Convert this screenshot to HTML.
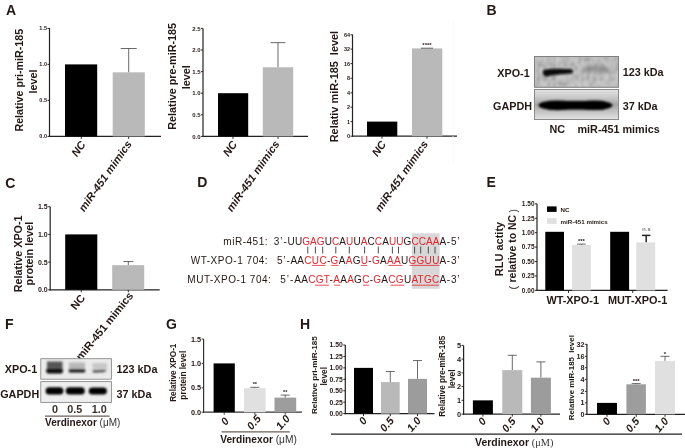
<!DOCTYPE html>
<html><head><meta charset="utf-8"><style>
html,body{margin:0;padding:0;background:#fff;}
svg{display:block;will-change:transform;}
text{font-family:"Liberation Sans",sans-serif;}
</style></head><body>
<svg width="685" height="448" viewBox="0 0 685 448">
<defs><filter id="blur1" x="-20%" y="-50%" width="140%" height="200%"><feGaussianBlur stdDeviation="1.2"/></filter>
<filter id="blur2" x="-20%" y="-50%" width="140%" height="200%"><feGaussianBlur stdDeviation="2.2"/></filter>
<filter id="blur08" x="-20%" y="-50%" width="140%" height="200%"><feGaussianBlur stdDeviation="0.9"/></filter>
<filter id="blur05" x="-20%" y="-50%" width="140%" height="200%"><feGaussianBlur stdDeviation="0.7"/></filter>
<filter id="noise" x="0" y="0" width="100%" height="100%"><feTurbulence type="fractalNoise" baseFrequency="0.35" numOctaves="2" seed="3"/><feColorMatrix type="matrix" values="0 0 0 0 0.5  0 0 0 0 0.5  0 0 0 0 0.5  0 0 0 0.5 -0.05"/><feComposite in2="SourceGraphic" operator="in"/></filter>
<filter id="noise2" x="0" y="0" width="100%" height="100%"><feTurbulence type="fractalNoise" baseFrequency="0.32 0.16" numOctaves="2" seed="11"/><feColorMatrix type="matrix" values="1.6 0 0 0 -0.3  1.6 0 0 0 -0.3  1.6 0 0 0 -0.3  0 0 0 0 0.3"/><feGaussianBlur stdDeviation="0.8"/><feComposite in2="SourceGraphic" operator="in"/></filter>
<linearGradient id="g2" x1="0" y1="0" x2="0" y2="1"><stop offset="0" stop-color="#e2e2e2"/><stop offset="0.25" stop-color="#cacaca"/><stop offset="0.5" stop-color="#a8a8a8"/><stop offset="0.75" stop-color="#c4c4c4"/><stop offset="1" stop-color="#e4e4e4"/></linearGradient></defs>
<text x="6" y="14.7" font-size="14" font-weight="bold" text-anchor="start" fill="#231815">A</text>
<line x1="49.5" y1="28" x2="49.5" y2="137.0" stroke="#222" stroke-width="1.2"/>
<line x1="48.9" y1="136.4" x2="161" y2="136.4" stroke="#222" stroke-width="1.2"/>
<line x1="47.5" y1="28.4" x2="49.5" y2="28.4" stroke="#222" stroke-width="0.96"/>
<text x="47.0" y="30.38" font-size="5.5" font-weight="bold" text-anchor="end" fill="#231815">1.5</text>
<line x1="47.5" y1="64.4" x2="49.5" y2="64.4" stroke="#222" stroke-width="0.96"/>
<text x="47.0" y="66.38000000000001" font-size="5.5" font-weight="bold" text-anchor="end" fill="#231815">1.0</text>
<line x1="47.5" y1="100.4" x2="49.5" y2="100.4" stroke="#222" stroke-width="0.96"/>
<text x="47.0" y="102.38000000000001" font-size="5.5" font-weight="bold" text-anchor="end" fill="#231815">0.5</text>
<line x1="47.5" y1="136.4" x2="49.5" y2="136.4" stroke="#222" stroke-width="0.96"/>
<text x="47.0" y="138.38" font-size="5.5" font-weight="bold" text-anchor="end" fill="#231815">0.0</text>
<line x1="81.3" y1="136.4" x2="81.3" y2="138.9" stroke="#222" stroke-width="0.96"/>
<line x1="128.7" y1="136.4" x2="128.7" y2="138.9" stroke="#222" stroke-width="0.96"/>
<rect x="65" y="64.4" width="32.2" height="72.0" fill="#000"/>
<line x1="128.7" y1="48.5" x2="128.7" y2="72.3" stroke="#444" stroke-width="0.8"/>
<line x1="120.69999999999999" y1="48.5" x2="136.7" y2="48.5" stroke="#444" stroke-width="0.8"/>
<rect x="112.7" y="72.3" width="32.1" height="64.10000000000001" fill="#b9b9b9"/>
<text transform="translate(23.4,80.2) rotate(-90)" font-size="10.7" font-weight="bold" text-anchor="middle" fill="#231815">Relative pri-miR-185</text>
<text transform="translate(37.2,81.5) rotate(-90)" font-size="10.8" font-weight="bold" text-anchor="middle" fill="#231815">level</text>
<text transform="translate(86,144.5) rotate(-55)" font-size="11" font-weight="bold" font-style="italic" text-anchor="end" fill="#231815">NC</text>
<text transform="translate(132.3,144) rotate(-55)" font-size="11" font-weight="bold" font-style="italic" text-anchor="end" fill="#231815">miR-451 mimics</text>
<line x1="203" y1="28.400000000000006" x2="203" y2="137.0" stroke="#222" stroke-width="1.2"/>
<line x1="202.4" y1="136.4" x2="308" y2="136.4" stroke="#222" stroke-width="1.2"/>
<line x1="201" y1="136.4" x2="203" y2="136.4" stroke="#222" stroke-width="0.96"/>
<text x="200.5" y="138.56" font-size="6" font-weight="bold" text-anchor="end" fill="#231815">0.0</text>
<line x1="201" y1="114.80000000000001" x2="203" y2="114.80000000000001" stroke="#222" stroke-width="0.96"/>
<text x="200.5" y="116.96000000000001" font-size="6" font-weight="bold" text-anchor="end" fill="#231815">0.5</text>
<line x1="201" y1="93.2" x2="203" y2="93.2" stroke="#222" stroke-width="0.96"/>
<text x="200.5" y="95.36" font-size="6" font-weight="bold" text-anchor="end" fill="#231815">1.0</text>
<line x1="201" y1="71.6" x2="203" y2="71.6" stroke="#222" stroke-width="0.96"/>
<text x="200.5" y="73.75999999999999" font-size="6" font-weight="bold" text-anchor="end" fill="#231815">1.5</text>
<line x1="201" y1="50.0" x2="203" y2="50.0" stroke="#222" stroke-width="0.96"/>
<text x="200.5" y="52.16" font-size="6" font-weight="bold" text-anchor="end" fill="#231815">2.0</text>
<line x1="201" y1="28.400000000000006" x2="203" y2="28.400000000000006" stroke="#222" stroke-width="0.96"/>
<text x="200.5" y="30.560000000000006" font-size="6" font-weight="bold" text-anchor="end" fill="#231815">2.5</text>
<line x1="233" y1="136.4" x2="233" y2="138.9" stroke="#222" stroke-width="0.96"/>
<line x1="278" y1="136.4" x2="278" y2="138.9" stroke="#222" stroke-width="0.96"/>
<rect x="218" y="93.2" width="30.2" height="43.2" fill="#000"/>
<line x1="278" y1="42.656000000000006" x2="278" y2="67.28" stroke="#444" stroke-width="0.8"/>
<line x1="270.5" y1="42.656000000000006" x2="285.5" y2="42.656000000000006" stroke="#444" stroke-width="0.8"/>
<rect x="262.8" y="67.28" width="30.4" height="69.12" fill="#b9b9b9"/>
<text transform="translate(176.3,76.3) rotate(-90)" font-size="10.8" font-weight="bold" text-anchor="middle" fill="#231815">Relative pre-miR-185</text>
<text transform="translate(189.7,77.2) rotate(-90)" font-size="10.8" font-weight="bold" text-anchor="middle" fill="#231815">level</text>
<text transform="translate(237.5,144.3) rotate(-55)" font-size="11" font-weight="bold" font-style="italic" text-anchor="end" fill="#231815">NC</text>
<text transform="translate(280,144) rotate(-55)" font-size="11" font-weight="bold" font-style="italic" text-anchor="end" fill="#231815">miR-451 mimics</text>
<line x1="352.5" y1="34.5" x2="352.5" y2="136.79999999999998" stroke="#222" stroke-width="1.2"/>
<line x1="351.9" y1="136.2" x2="457" y2="136.2" stroke="#222" stroke-width="1.2"/>
<line x1="350.5" y1="136.2" x2="352.5" y2="136.2" stroke="#222" stroke-width="0.96"/>
<text x="350.0" y="138.17999999999998" font-size="5.5" font-weight="bold" text-anchor="end" fill="#231815">0</text>
<line x1="350.5" y1="121.6" x2="352.5" y2="121.6" stroke="#222" stroke-width="0.96"/>
<text x="350.0" y="123.58" font-size="5.5" font-weight="bold" text-anchor="end" fill="#231815">1</text>
<line x1="350.5" y1="107.2" x2="352.5" y2="107.2" stroke="#222" stroke-width="0.96"/>
<text x="350.0" y="109.18" font-size="5.5" font-weight="bold" text-anchor="end" fill="#231815">2</text>
<line x1="350.5" y1="92.8" x2="352.5" y2="92.8" stroke="#222" stroke-width="0.96"/>
<text x="350.0" y="94.78" font-size="5.5" font-weight="bold" text-anchor="end" fill="#231815">4</text>
<line x1="350.5" y1="78.3" x2="352.5" y2="78.3" stroke="#222" stroke-width="0.96"/>
<text x="350.0" y="80.28" font-size="5.5" font-weight="bold" text-anchor="end" fill="#231815">8</text>
<line x1="350.5" y1="63.6" x2="352.5" y2="63.6" stroke="#222" stroke-width="0.96"/>
<text x="350.0" y="65.58" font-size="5.5" font-weight="bold" text-anchor="end" fill="#231815">16</text>
<line x1="350.5" y1="49.1" x2="352.5" y2="49.1" stroke="#222" stroke-width="0.96"/>
<text x="350.0" y="51.08" font-size="5.5" font-weight="bold" text-anchor="end" fill="#231815">32</text>
<line x1="350.5" y1="34.8" x2="352.5" y2="34.8" stroke="#222" stroke-width="0.96"/>
<text x="350.0" y="36.779999999999994" font-size="5.5" font-weight="bold" text-anchor="end" fill="#231815">64</text>
<line x1="382" y1="136.2" x2="382" y2="138.7" stroke="#222" stroke-width="0.96"/>
<line x1="427" y1="136.2" x2="427" y2="138.7" stroke="#222" stroke-width="0.96"/>
<rect x="367" y="121.6" width="30.3" height="14.599999999999994" fill="#000"/>
<rect x="412" y="48.4" width="30.3" height="87.79999999999998" fill="#b9b9b9"/>
<line x1="421" y1="48.2" x2="433" y2="48.2" stroke="#444" stroke-width="0.8"/>
<text x="427" y="46.5" font-size="6" font-weight="bold" text-anchor="middle" fill="#231815">****</text>
<text transform="translate(338,86.6) rotate(-90)" font-size="10.9" font-weight="bold" text-anchor="middle" fill="#231815">Relativ miR-185&#160; level</text>
<text transform="translate(386.5,144.3) rotate(-55)" font-size="11" font-weight="bold" font-style="italic" text-anchor="end" fill="#231815">NC</text>
<text transform="translate(428.5,144) rotate(-55)" font-size="11" font-weight="bold" font-style="italic" text-anchor="end" fill="#231815">miR-451 mimics</text>
<text x="486.4" y="14.7" font-size="14" font-weight="bold" text-anchor="start" fill="#231815">B</text>
<rect x="534.5" y="56.5" width="84" height="30.8" fill="#bababa" stroke="#808080" stroke-width="1"/>
<rect x="535" y="57" width="83" height="29.8" fill="#fff" filter="url(#noise2)"/>
<g filter="url(#blur08)"><path d="M543.5,69.8 C548,68.3 562,68.4 571.5,69.2 C573.5,70.5 573.5,72.5 571.5,73.4 C562,74.2 552,74.6 547,76.6 C543,76.9 541.8,72 543.5,69.8 Z" fill="#0a0a0a"/></g>
<g filter="url(#blur2)" opacity="0.75"><ellipse cx="596.5" cy="69.2" rx="13" ry="2.6" fill="#7a7a7a"/><ellipse cx="588" cy="70" rx="3.5" ry="2.2" fill="#606060"/><ellipse cx="603" cy="69.5" rx="3.5" ry="2" fill="#666"/></g>
<rect x="534.5" y="89.5" width="84" height="30" fill="url(#g2)" stroke="#8a8a8a" stroke-width="1"/>
<g filter="url(#blur1)"><ellipse cx="557.5" cy="105.3" rx="19" ry="4.9" fill="#050505"/><ellipse cx="594" cy="105.3" rx="18.5" ry="4.8" fill="#050505"/><rect x="548" y="101" width="56" height="8.6" fill="#050505"/></g>
<text x="529.7" y="76.6" font-size="10.8" font-weight="bold" text-anchor="end" fill="#231815">XPO-1</text>
<text x="532" y="110.2" font-size="10.8" font-weight="bold" text-anchor="end" fill="#231815">GAPDH</text>
<text x="622.8" y="76.4" font-size="10.8" font-weight="bold" text-anchor="start" fill="#231815">123 kDa</text>
<text x="622.8" y="110" font-size="10.8" font-weight="bold" text-anchor="start" fill="#231815">37 kDa</text>
<text x="557.3" y="133.2" font-size="10.8" font-weight="bold" text-anchor="middle" fill="#231815">NC</text>
<text x="577.5" y="133.2" font-size="10.8" font-weight="bold" text-anchor="start" fill="#231815">miR-451 mimics</text>
<text x="5.2" y="187.5" font-size="14" font-weight="bold" text-anchor="start" fill="#231815">C</text>
<line x1="50.2" y1="206.70000000000002" x2="50.2" y2="290.40000000000003" stroke="#222" stroke-width="1.2"/>
<line x1="49.6" y1="289.8" x2="159.7" y2="289.8" stroke="#222" stroke-width="1.2"/>
<line x1="48.2" y1="289.8" x2="50.2" y2="289.8" stroke="#222" stroke-width="0.96"/>
<text x="47.7" y="292.32" font-size="7" font-weight="bold" text-anchor="end" fill="#231815">0.0</text>
<line x1="48.2" y1="262.1" x2="50.2" y2="262.1" stroke="#222" stroke-width="0.96"/>
<text x="47.7" y="264.62" font-size="7" font-weight="bold" text-anchor="end" fill="#231815">0.5</text>
<line x1="48.2" y1="234.4" x2="50.2" y2="234.4" stroke="#222" stroke-width="0.96"/>
<text x="47.7" y="236.92000000000002" font-size="7" font-weight="bold" text-anchor="end" fill="#231815">1.0</text>
<line x1="48.2" y1="206.70000000000002" x2="50.2" y2="206.70000000000002" stroke="#222" stroke-width="0.96"/>
<text x="47.7" y="209.22000000000003" font-size="7" font-weight="bold" text-anchor="end" fill="#231815">1.5</text>
<line x1="81.3" y1="289.8" x2="81.3" y2="292.3" stroke="#222" stroke-width="0.96"/>
<line x1="128.3" y1="289.8" x2="128.3" y2="292.3" stroke="#222" stroke-width="0.96"/>
<rect x="65.2" y="234.4" width="32.1" height="55.4" fill="#000"/>
<line x1="128.3" y1="261.546" x2="128.3" y2="265.147" stroke="#444" stroke-width="0.8"/>
<line x1="123.30000000000001" y1="261.546" x2="133.3" y2="261.546" stroke="#444" stroke-width="0.8"/>
<rect x="112.2" y="265.147" width="32" height="24.65300000000002" fill="#b9b9b9"/>
<text transform="translate(21.8,253.8) rotate(-90)" font-size="10.8" font-weight="bold" text-anchor="middle" fill="#231815">Relative XPO-1</text>
<text transform="translate(33.4,253.6) rotate(-90)" font-size="10.8" font-weight="bold" text-anchor="middle" fill="#231815">protein level</text>
<text transform="translate(85.8,298.2) rotate(-51)" font-size="11" font-weight="bold" text-anchor="end" fill="#231815">NC</text>
<text transform="translate(133.8,296) rotate(-51)" font-size="11" font-weight="bold" text-anchor="end" fill="#231815">miR-451 mimics</text>
<text x="197.3" y="187.4" font-size="14" font-weight="bold" text-anchor="start" fill="#231815">D</text>
<rect x="411.8" y="233.3" width="27.8" height="55.5" fill="#d8d8d8"/>
<text x="223.3" y="244.5" font-size="10" letter-spacing="0.53" fill="#231815">miR-451:</text>
<text x="190.7" y="263.5" font-size="10" letter-spacing="0.53" fill="#231815">WT-XPO-1 704:</text>
<text x="187.3" y="282.5" font-size="10" letter-spacing="0.53" fill="#231815">MUT-XPO-1 704:</text>
<text x="273.8" y="244.5" font-size="10" letter-spacing="0.9" fill="#231815">3’-</text>
<text x="287.6" y="244.5" font-size="10" letter-spacing="0.09" fill="#231815"><tspan fill="#231815">UU</tspan><tspan fill="#e8212b">GAG</tspan><tspan fill="#231815">U</tspan><tspan fill="#e8212b">C</tspan><tspan fill="#231815">A</tspan><tspan fill="#e8212b">U</tspan><tspan fill="#231815">U</tspan><tspan fill="#e8212b">A</tspan><tspan fill="#231815">C</tspan><tspan fill="#e8212b">C</tspan><tspan fill="#231815">A</tspan><tspan fill="#e8212b">UU</tspan><tspan fill="#231815">G</tspan><tspan fill="#e8212b">CCAA</tspan></text>
<text x="439.5" y="244.5" font-size="10" letter-spacing="0.7" fill="#231815">A-5’</text>
<text x="276.9" y="263.5" font-size="10" letter-spacing="0.9" fill="#231815">5’-</text>
<text x="290.4" y="263.5" font-size="10" letter-spacing="0.3" fill="#231815"><tspan fill="#231815">AA</tspan><tspan fill="#e8212b">CUC</tspan><tspan fill="#231815">-</tspan><tspan fill="#e8212b">G</tspan><tspan fill="#231815">A</tspan><tspan fill="#e8212b">A</tspan><tspan fill="#231815">G</tspan><tspan fill="#e8212b">U</tspan><tspan fill="#231815">-</tspan><tspan fill="#e8212b">G</tspan><tspan fill="#231815">A</tspan><tspan fill="#e8212b">AA</tspan><tspan fill="#231815">U</tspan><tspan fill="#e8212b">GGUU</tspan></text>
<text x="439.5" y="263.5" font-size="10" letter-spacing="0.7" fill="#231815">A-3’</text>
<text x="280.3" y="282.5" font-size="10" letter-spacing="0.9" fill="#231815">5’-</text>
<text x="294.3" y="282.5" font-size="10" letter-spacing="0.28" fill="#231815"><tspan fill="#231815">AA</tspan><tspan fill="#e8212b">CGT</tspan><tspan fill="#231815">-</tspan><tspan fill="#e8212b">A</tspan><tspan fill="#231815">A</tspan><tspan fill="#e8212b">A</tspan><tspan fill="#231815">G</tspan><tspan fill="#e8212b">C</tspan><tspan fill="#231815">-</tspan><tspan fill="#e8212b">G</tspan><tspan fill="#231815">A</tspan><tspan fill="#e8212b">CG</tspan><tspan fill="#231815">U</tspan><tspan fill="#e8212b">ATGC</tspan></text>
<text x="439.5" y="282.5" font-size="10" letter-spacing="0.7" fill="#231815">A-3’</text>
<line x1="307.8" y1="246.6" x2="307.8" y2="253.5" stroke="#3a3a3a" stroke-width="0.9"/>
<line x1="315.4" y1="246.6" x2="315.4" y2="253.5" stroke="#3a3a3a" stroke-width="0.9"/>
<line x1="322.7" y1="246.6" x2="322.7" y2="253.5" stroke="#3a3a3a" stroke-width="0.9"/>
<line x1="335.8" y1="246.6" x2="335.8" y2="253.5" stroke="#3a3a3a" stroke-width="0.9"/>
<line x1="349.3" y1="246.6" x2="349.3" y2="253.5" stroke="#3a3a3a" stroke-width="0.9"/>
<line x1="364.6" y1="246.6" x2="364.6" y2="253.5" stroke="#3a3a3a" stroke-width="0.9"/>
<line x1="378.3" y1="246.6" x2="378.3" y2="253.5" stroke="#3a3a3a" stroke-width="0.9"/>
<line x1="392.4" y1="246.6" x2="392.4" y2="253.5" stroke="#3a3a3a" stroke-width="0.9"/>
<line x1="398.5" y1="246.6" x2="398.5" y2="253.5" stroke="#3a3a3a" stroke-width="0.9"/>
<line x1="414.6" y1="246.6" x2="414.6" y2="253.5" stroke="#3a3a3a" stroke-width="0.9"/>
<line x1="420.7" y1="246.6" x2="420.7" y2="253.5" stroke="#3a3a3a" stroke-width="0.9"/>
<line x1="428.3" y1="246.6" x2="428.3" y2="253.5" stroke="#3a3a3a" stroke-width="0.9"/>
<line x1="435" y1="246.6" x2="435" y2="253.5" stroke="#3a3a3a" stroke-width="0.9"/>
<line x1="311.9" y1="265.4" x2="325.6" y2="265.4" stroke="#e8212b" stroke-width="0.8"/>
<line x1="331.3" y1="265.4" x2="338.5" y2="265.4" stroke="#e8212b" stroke-width="0.8"/>
<line x1="361" y1="265.4" x2="367" y2="265.4" stroke="#e8212b" stroke-width="0.8"/>
<line x1="388.4" y1="265.4" x2="402.3" y2="265.4" stroke="#e8212b" stroke-width="0.8"/>
<line x1="409.7" y1="265.4" x2="439.5" y2="265.4" stroke="#e8212b" stroke-width="0.8"/>
<line x1="315" y1="285.2" x2="328.8" y2="285.2" stroke="#e8212b" stroke-width="0.8"/>
<line x1="333.9" y1="285.2" x2="340" y2="285.2" stroke="#e8212b" stroke-width="0.8"/>
<line x1="363" y1="285.2" x2="369" y2="285.2" stroke="#e8212b" stroke-width="0.8"/>
<line x1="390.6" y1="285.2" x2="403.9" y2="285.2" stroke="#e8212b" stroke-width="0.8"/>
<line x1="411.9" y1="285.2" x2="438.8" y2="285.2" stroke="#e8212b" stroke-width="0.8"/>
<text x="486.4" y="187.4" font-size="14" font-weight="bold" text-anchor="start" fill="#231815">E</text>
<line x1="537" y1="203.82" x2="537" y2="291.0" stroke="#222" stroke-width="1.2"/>
<line x1="536.4" y1="290.4" x2="667.6" y2="290.4" stroke="#222" stroke-width="1.2"/>
<line x1="535" y1="290.4" x2="537" y2="290.4" stroke="#222" stroke-width="0.96"/>
<text x="534.5" y="292.73999999999995" font-size="6.5" font-weight="bold" text-anchor="end" fill="#231815">0.00</text>
<line x1="535" y1="275.96999999999997" x2="537" y2="275.96999999999997" stroke="#222" stroke-width="0.96"/>
<text x="534.5" y="278.30999999999995" font-size="6.5" font-weight="bold" text-anchor="end" fill="#231815">0.25</text>
<line x1="535" y1="261.53999999999996" x2="537" y2="261.53999999999996" stroke="#222" stroke-width="0.96"/>
<text x="534.5" y="263.87999999999994" font-size="6.5" font-weight="bold" text-anchor="end" fill="#231815">0.50</text>
<line x1="535" y1="247.10999999999999" x2="537" y2="247.10999999999999" stroke="#222" stroke-width="0.96"/>
<text x="534.5" y="249.45" font-size="6.5" font-weight="bold" text-anchor="end" fill="#231815">0.75</text>
<line x1="535" y1="232.67999999999998" x2="537" y2="232.67999999999998" stroke="#222" stroke-width="0.96"/>
<text x="534.5" y="235.01999999999998" font-size="6.5" font-weight="bold" text-anchor="end" fill="#231815">1.00</text>
<line x1="535" y1="218.24999999999997" x2="537" y2="218.24999999999997" stroke="#222" stroke-width="0.96"/>
<text x="534.5" y="220.58999999999997" font-size="6.5" font-weight="bold" text-anchor="end" fill="#231815">1.25</text>
<line x1="535" y1="203.82" x2="537" y2="203.82" stroke="#222" stroke-width="0.96"/>
<text x="534.5" y="206.16" font-size="6.5" font-weight="bold" text-anchor="end" fill="#231815">1.50</text>
<line x1="568.5" y1="290.4" x2="568.5" y2="292.9" stroke="#222" stroke-width="0.96"/>
<line x1="632.7" y1="290.4" x2="632.7" y2="292.9" stroke="#222" stroke-width="0.96"/>
<rect x="545.3" y="231.8" width="18.7" height="58.599999999999966" fill="#000"/>
<line x1="581.4" y1="244.1" x2="581.4" y2="245" stroke="#444" stroke-width="0.8"/>
<line x1="577.05" y1="244.1" x2="585.75" y2="244.1" stroke="#444" stroke-width="0.8"/>
<rect x="572.1" y="245" width="18.7" height="45.39999999999998" fill="#dfe0df"/>
<text x="581.4" y="242.6" font-size="6" font-weight="bold" text-anchor="middle" fill="#231815">***</text>
<rect x="610.2" y="231.8" width="18.9" height="58.599999999999966" fill="#000"/>
<line x1="646.2" y1="235.4" x2="646.2" y2="242.4" stroke="#222" stroke-width="1.5"/>
<line x1="642.0" y1="235.4" x2="650.4000000000001" y2="235.4" stroke="#222" stroke-width="1.5"/>
<rect x="636.3" y="242.4" width="18.9" height="47.99999999999997" fill="#dfe0df"/>
<text x="646.4" y="231.1" font-size="6.2" text-anchor="middle" fill="#444">n.s</text>
<rect x="547" y="206.4" width="9.6" height="5.5" fill="#000"/>
<rect x="547" y="218.1" width="9.6" height="5.8" fill="#dfe0df"/>
<text x="560.6" y="211.6" font-size="6.2" font-weight="bold" text-anchor="start" fill="#231815">NC</text>
<text x="560.6" y="223.8" font-size="6.2" font-weight="bold" text-anchor="start" fill="#231815">miR-451 mimics</text>
<text transform="translate(503.1,249) rotate(-90)" font-size="11" font-weight="bold" text-anchor="middle" fill="#231815">RLU actity</text>
<text transform="translate(515.7,248.7) rotate(-90)" font-size="10.5" font-weight="bold" text-anchor="middle" fill="#231815">relative to NC</text>
<text transform="translate(516.5,289.5) rotate(-90)" font-size="10.5" text-anchor="start" fill="#231815">(</text>
<text transform="translate(516.5,212.5) rotate(-90)" font-size="10.5" text-anchor="start" fill="#231815">)</text>
<text x="572.7" y="303.6" font-size="10.9" font-weight="bold" text-anchor="middle" fill="#231815">WT-XPO-1</text>
<text x="637.6" y="303.6" font-size="10.9" font-weight="bold" text-anchor="middle" fill="#231815">MUT-XPO-1</text>
<text x="5" y="329" font-size="14" font-weight="bold" text-anchor="start" fill="#231815">F</text>
<rect x="40.8" y="358.7" width="70.6" height="20.5" fill="#ebebeb" stroke="#8a8a8a" stroke-width="0.9"/>
<rect x="40.8" y="381.6" width="70.6" height="20.8" fill="#eeeeee" stroke="#8a8a8a" stroke-width="0.9"/>
<g filter="url(#blur1)"><rect x="47" y="361.5" width="15.5" height="7" fill="#555"/><rect x="69" y="362.5" width="16" height="6.5" fill="#b8b8b8"/><rect x="92.5" y="363" width="14.5" height="6.5" fill="#c8c8c8"/></g>
<g filter="url(#blur08)"><rect x="46.3" y="368.2" width="16.6" height="5.2" rx="2" fill="#080808"/><rect x="68.6" y="369.2" width="16.8" height="3.4" rx="1.5" fill="#1a1a1a"/><path d="M92.5,370.2 L103,369.8 L107,370.5 L104,372.3 L93,372.8 Z" fill="#555"/></g>
<g filter="url(#blur08)"><rect x="45.6" y="387.2" width="17.8" height="7.4" rx="3.5" fill="#050505"/><rect x="65.8" y="387.2" width="19" height="7.4" rx="3.5" fill="#050505"/><rect x="88.7" y="387.4" width="18.2" height="7.2" rx="3.5" fill="#050505"/></g>
<text x="37.2" y="373.4" font-size="10.8" font-weight="bold" text-anchor="end" fill="#231815">XPO-1</text>
<text x="39.2" y="398.2" font-size="10.8" font-weight="bold" text-anchor="end" fill="#231815">GAPDH</text>
<text x="116.6" y="373.4" font-size="10.8" font-weight="bold" text-anchor="start" fill="#231815">123 kDa</text>
<text x="116.6" y="398.2" font-size="10.8" font-weight="bold" text-anchor="start" fill="#231815">37 kDa</text>
<text x="54.9" y="413.1" font-size="10.8" font-weight="bold" text-anchor="middle" fill="#3a302c">0</text>
<text x="74.8" y="413.1" font-size="10.8" font-weight="bold" text-anchor="middle" fill="#3a302c">0.5</text>
<text x="99.15" y="413.1" font-size="10.8" font-weight="bold" text-anchor="middle" fill="#3a302c">1.0</text>
<line x1="45" y1="416.1" x2="109.6" y2="416.1" stroke="#6b5f5a" stroke-width="1.3"/>
<text x="45.1" y="425.8" font-size="10" fill="#231815"><tspan font-weight="bold">Verdinexor</tspan><tspan fill="#333"> (μM)</tspan></text>
<text x="165.9" y="328.6" font-size="14" font-weight="bold" text-anchor="start" fill="#231815">G</text>
<line x1="203.6" y1="339.0" x2="203.6" y2="412.8" stroke="#333" stroke-width="1.2"/>
<line x1="203.0" y1="412.2" x2="302" y2="412.2" stroke="#333" stroke-width="1.2"/>
<line x1="201.6" y1="412.2" x2="203.6" y2="412.2" stroke="#333" stroke-width="0.96"/>
<text x="201.1" y="414.828" font-size="7.3" font-weight="bold" text-anchor="end" fill="#231815">0.0</text>
<line x1="201.6" y1="387.8" x2="203.6" y2="387.8" stroke="#333" stroke-width="0.96"/>
<text x="201.1" y="390.428" font-size="7.3" font-weight="bold" text-anchor="end" fill="#231815">0.5</text>
<line x1="201.6" y1="363.4" x2="203.6" y2="363.4" stroke="#333" stroke-width="0.96"/>
<text x="201.1" y="366.02799999999996" font-size="7.3" font-weight="bold" text-anchor="end" fill="#231815">1.0</text>
<line x1="201.6" y1="339.0" x2="203.6" y2="339.0" stroke="#333" stroke-width="0.96"/>
<text x="201.1" y="341.628" font-size="7.3" font-weight="bold" text-anchor="end" fill="#231815">1.5</text>
<line x1="224.2" y1="412.2" x2="224.2" y2="414.7" stroke="#333" stroke-width="0.96"/>
<line x1="254.8" y1="412.2" x2="254.8" y2="414.7" stroke="#333" stroke-width="0.96"/>
<line x1="285.2" y1="412.2" x2="285.2" y2="414.7" stroke="#333" stroke-width="0.96"/>
<rect x="213.6" y="363.4" width="21.2" height="48.8" fill="#000"/>
<line x1="254.8" y1="387.3" x2="254.8" y2="388.2" stroke="#444" stroke-width="0.8"/>
<line x1="250.3" y1="387.3" x2="259.3" y2="387.3" stroke="#444" stroke-width="0.8"/>
<rect x="244" y="388.2" width="21.6" height="24.0" fill="#dfe0df"/>
<text x="254.8" y="386.2" font-size="5.5" font-weight="bold" text-anchor="middle" fill="#231815">**</text>
<line x1="285.2" y1="395.1" x2="285.2" y2="397.6" stroke="#444" stroke-width="0.8"/>
<line x1="280.7" y1="395.1" x2="289.7" y2="395.1" stroke="#444" stroke-width="0.8"/>
<rect x="274.5" y="397.6" width="21.7" height="14.599999999999966" fill="#9d9d9d"/>
<text x="285.2" y="393.9" font-size="5.5" font-weight="bold" text-anchor="middle" fill="#231815">**</text>
<text transform="translate(176.2,372.7) rotate(-90)" font-size="8.2" font-weight="bold" text-anchor="middle" fill="#231815">Relative XPO-1</text>
<text transform="translate(185.6,375.2) rotate(-90)" font-size="8.3" font-weight="bold" text-anchor="middle" fill="#231815">protein level</text>
<text transform="translate(229.5,421.5) rotate(-50)" font-size="10.8" font-weight="bold" font-style="italic" text-anchor="end" fill="#231815">0</text>
<text transform="translate(261.5,419) rotate(-50)" font-size="10.8" font-weight="bold" font-style="italic" text-anchor="end" fill="#231815">0.5</text>
<text transform="translate(290.5,419) rotate(-50)" font-size="10.8" font-weight="bold" font-style="italic" text-anchor="end" fill="#231815">1.0</text>
<line x1="221.5" y1="431.9" x2="289.7" y2="431.9" stroke="#6b5f5a" stroke-width="1.3"/>
<text x="220.2" y="442.5" font-size="10.2" fill="#231815"><tspan font-weight="bold">Verdinexor</tspan><tspan fill="#333"> (μM)</tspan></text>
<text x="300" y="329" font-size="14" font-weight="bold" text-anchor="start" fill="#231815">H</text>
<line x1="345.3" y1="345.02000000000004" x2="345.3" y2="414.20000000000005" stroke="#222" stroke-width="1.2"/>
<line x1="344.7" y1="413.6" x2="434.5" y2="413.6" stroke="#222" stroke-width="1.2"/>
<line x1="343.3" y1="413.6" x2="345.3" y2="413.6" stroke="#222" stroke-width="0.96"/>
<text x="342.8" y="416.048" font-size="6.8" font-weight="bold" text-anchor="end" fill="#231815">0.00</text>
<line x1="343.3" y1="402.17" x2="345.3" y2="402.17" stroke="#222" stroke-width="0.96"/>
<text x="342.8" y="404.618" font-size="6.8" font-weight="bold" text-anchor="end" fill="#231815">0.25</text>
<line x1="343.3" y1="390.74" x2="345.3" y2="390.74" stroke="#222" stroke-width="0.96"/>
<text x="342.8" y="393.188" font-size="6.8" font-weight="bold" text-anchor="end" fill="#231815">0.50</text>
<line x1="343.3" y1="379.31" x2="345.3" y2="379.31" stroke="#222" stroke-width="0.96"/>
<text x="342.8" y="381.758" font-size="6.8" font-weight="bold" text-anchor="end" fill="#231815">0.75</text>
<line x1="343.3" y1="367.88" x2="345.3" y2="367.88" stroke="#222" stroke-width="0.96"/>
<text x="342.8" y="370.328" font-size="6.8" font-weight="bold" text-anchor="end" fill="#231815">1.00</text>
<line x1="343.3" y1="356.45000000000005" x2="345.3" y2="356.45000000000005" stroke="#222" stroke-width="0.96"/>
<text x="342.8" y="358.898" font-size="6.8" font-weight="bold" text-anchor="end" fill="#231815">1.25</text>
<line x1="343.3" y1="345.02000000000004" x2="345.3" y2="345.02000000000004" stroke="#222" stroke-width="0.96"/>
<text x="342.8" y="347.468" font-size="6.8" font-weight="bold" text-anchor="end" fill="#231815">1.50</text>
<line x1="363.5" y1="413.6" x2="363.5" y2="416.1" stroke="#222" stroke-width="0.96"/>
<line x1="390.3" y1="413.6" x2="390.3" y2="416.1" stroke="#222" stroke-width="0.96"/>
<line x1="417.5" y1="413.6" x2="417.5" y2="416.1" stroke="#222" stroke-width="0.96"/>
<rect x="354" y="367.88" width="19" height="45.72" fill="#000"/>
<line x1="390.3" y1="371.5376" x2="390.3" y2="382.0532" stroke="#444" stroke-width="0.8"/>
<line x1="385.8" y1="371.5376" x2="394.8" y2="371.5376" stroke="#444" stroke-width="0.8"/>
<rect x="381" y="382.0532" width="18.7" height="31.54680000000002" fill="#b9b9b9"/>
<line x1="417.5" y1="360.56480000000005" x2="417.5" y2="378.8528" stroke="#444" stroke-width="0.8"/>
<line x1="413.0" y1="360.56480000000005" x2="422.0" y2="360.56480000000005" stroke="#444" stroke-width="0.8"/>
<rect x="408" y="378.8528" width="19" height="34.74720000000002" fill="#9c9c9c"/>
<text transform="translate(317.4,375.2) rotate(-90)" font-size="8.1" font-weight="bold" text-anchor="middle" fill="#231815">Relative pri-miR-185</text>
<text transform="translate(326.7,376.2) rotate(-90)" font-size="8.3" font-weight="bold" text-anchor="middle" fill="#231815">level</text>
<text transform="translate(367.5,421) rotate(-50)" font-size="10.8" font-weight="bold" font-style="italic" text-anchor="end" fill="#231815">0</text>
<text transform="translate(394.5,421) rotate(-50)" font-size="10.8" font-weight="bold" font-style="italic" text-anchor="end" fill="#231815">0.5</text>
<text transform="translate(421.5,421) rotate(-50)" font-size="10.8" font-weight="bold" font-style="italic" text-anchor="end" fill="#231815">1.0</text>
<line x1="463.6" y1="345.40000000000003" x2="463.6" y2="414.70000000000005" stroke="#222" stroke-width="1.2"/>
<line x1="463.0" y1="414.1" x2="560" y2="414.1" stroke="#222" stroke-width="1.2"/>
<line x1="461.6" y1="414.1" x2="463.6" y2="414.1" stroke="#222" stroke-width="0.96"/>
<text x="461.1" y="416.764" font-size="7.4" font-weight="bold" text-anchor="end" fill="#231815">0</text>
<line x1="461.6" y1="400.36" x2="463.6" y2="400.36" stroke="#222" stroke-width="0.96"/>
<text x="461.1" y="403.024" font-size="7.4" font-weight="bold" text-anchor="end" fill="#231815">1</text>
<line x1="461.6" y1="386.62" x2="463.6" y2="386.62" stroke="#222" stroke-width="0.96"/>
<text x="461.1" y="389.284" font-size="7.4" font-weight="bold" text-anchor="end" fill="#231815">2</text>
<line x1="461.6" y1="372.88" x2="463.6" y2="372.88" stroke="#222" stroke-width="0.96"/>
<text x="461.1" y="375.544" font-size="7.4" font-weight="bold" text-anchor="end" fill="#231815">3</text>
<line x1="461.6" y1="359.14000000000004" x2="463.6" y2="359.14000000000004" stroke="#222" stroke-width="0.96"/>
<text x="461.1" y="361.80400000000003" font-size="7.4" font-weight="bold" text-anchor="end" fill="#231815">4</text>
<line x1="461.6" y1="345.40000000000003" x2="463.6" y2="345.40000000000003" stroke="#222" stroke-width="0.96"/>
<text x="461.1" y="348.064" font-size="7.4" font-weight="bold" text-anchor="end" fill="#231815">5</text>
<line x1="482.9" y1="414.1" x2="482.9" y2="416.6" stroke="#222" stroke-width="0.96"/>
<line x1="512.3" y1="414.1" x2="512.3" y2="416.6" stroke="#222" stroke-width="0.96"/>
<line x1="540.9" y1="414.1" x2="540.9" y2="416.6" stroke="#222" stroke-width="0.96"/>
<rect x="472.9" y="400.36" width="20" height="13.74" fill="#000"/>
<line x1="512.3" y1="355.2928" x2="512.3" y2="370.132" stroke="#444" stroke-width="0.8"/>
<line x1="507.79999999999995" y1="355.2928" x2="516.8" y2="355.2928" stroke="#444" stroke-width="0.8"/>
<rect x="502.3" y="370.132" width="20" height="43.96800000000002" fill="#b9b9b9"/>
<line x1="540.9" y1="361.88800000000003" x2="540.9" y2="377.689" stroke="#444" stroke-width="0.8"/>
<line x1="536.4" y1="361.88800000000003" x2="545.4" y2="361.88800000000003" stroke="#444" stroke-width="0.8"/>
<rect x="530.9" y="377.689" width="20" height="36.411" fill="#9c9c9c"/>
<text transform="translate(445.3,376.2) rotate(-90)" font-size="8.2" font-weight="bold" text-anchor="middle" fill="#231815">Relative pre-miR-185</text>
<text transform="translate(455.1,378.8) rotate(-90)" font-size="8.5" font-weight="bold" text-anchor="middle" fill="#231815">level</text>
<text transform="translate(486.9,421.5) rotate(-50)" font-size="10.8" font-weight="bold" font-style="italic" text-anchor="end" fill="#231815">0</text>
<text transform="translate(516.3,421.5) rotate(-50)" font-size="10.8" font-weight="bold" font-style="italic" text-anchor="end" fill="#231815">0.5</text>
<text transform="translate(544.9,421.5) rotate(-50)" font-size="10.8" font-weight="bold" font-style="italic" text-anchor="end" fill="#231815">1.0</text>
<line x1="586.9" y1="344" x2="586.9" y2="414.90000000000003" stroke="#222" stroke-width="1.2"/>
<line x1="586.3" y1="414.3" x2="685" y2="414.3" stroke="#222" stroke-width="1.2"/>
<line x1="584.9" y1="414.3" x2="586.9" y2="414.3" stroke="#222" stroke-width="0.96"/>
<text x="584.4" y="416.892" font-size="7.2" font-weight="bold" text-anchor="end" fill="#231815">0</text>
<line x1="584.9" y1="402.9" x2="586.9" y2="402.9" stroke="#222" stroke-width="0.96"/>
<text x="584.4" y="405.49199999999996" font-size="7.2" font-weight="bold" text-anchor="end" fill="#231815">1</text>
<line x1="584.9" y1="391.4" x2="586.9" y2="391.4" stroke="#222" stroke-width="0.96"/>
<text x="584.4" y="393.99199999999996" font-size="7.2" font-weight="bold" text-anchor="end" fill="#231815">2</text>
<line x1="584.9" y1="379.4" x2="586.9" y2="379.4" stroke="#222" stroke-width="0.96"/>
<text x="584.4" y="381.99199999999996" font-size="7.2" font-weight="bold" text-anchor="end" fill="#231815">4</text>
<line x1="584.9" y1="367.7" x2="586.9" y2="367.7" stroke="#222" stroke-width="0.96"/>
<text x="584.4" y="370.292" font-size="7.2" font-weight="bold" text-anchor="end" fill="#231815">8</text>
<line x1="584.9" y1="356.3" x2="586.9" y2="356.3" stroke="#222" stroke-width="0.96"/>
<text x="584.4" y="358.892" font-size="7.2" font-weight="bold" text-anchor="end" fill="#231815">16</text>
<line x1="584.9" y1="344.3" x2="586.9" y2="344.3" stroke="#222" stroke-width="0.96"/>
<text x="584.4" y="346.892" font-size="7.2" font-weight="bold" text-anchor="end" fill="#231815">32</text>
<line x1="607" y1="414.3" x2="607" y2="416.8" stroke="#222" stroke-width="0.96"/>
<line x1="636.2" y1="414.3" x2="636.2" y2="416.8" stroke="#222" stroke-width="0.96"/>
<line x1="665" y1="414.3" x2="665" y2="416.8" stroke="#222" stroke-width="0.96"/>
<rect x="597" y="402.9" width="20" height="11.400000000000034" fill="#000"/>
<line x1="636.2" y1="383.6" x2="636.2" y2="384.3" stroke="#444" stroke-width="0.8"/>
<line x1="631.7" y1="383.6" x2="640.7" y2="383.6" stroke="#444" stroke-width="0.8"/>
<rect x="626.4" y="384.3" width="19.5" height="30.0" fill="#9d9d9d"/>
<text x="636.2" y="383" font-size="6" font-weight="bold" text-anchor="middle" fill="#231815">***</text>
<line x1="665" y1="356.3" x2="665" y2="360.9" stroke="#444" stroke-width="0.8"/>
<line x1="660.5" y1="356.3" x2="669.5" y2="356.3" stroke="#444" stroke-width="0.8"/>
<rect x="655" y="360.9" width="20" height="53.400000000000034" fill="#e0e0e0"/>
<text x="665" y="356" font-size="6" font-weight="bold" text-anchor="middle" fill="#231815">*</text>
<text transform="translate(574.1,377.7) rotate(-90)" font-size="7.9" font-weight="bold" text-anchor="middle" fill="#231815">Relative miR-185&#160; level</text>
<text transform="translate(611,421.5) rotate(-50)" font-size="10.8" font-weight="bold" font-style="italic" text-anchor="end" fill="#231815">0</text>
<text transform="translate(640.2,421.5) rotate(-50)" font-size="10.8" font-weight="bold" font-style="italic" text-anchor="end" fill="#231815">0.5</text>
<text transform="translate(669,421.5) rotate(-50)" font-size="10.8" font-weight="bold" font-style="italic" text-anchor="end" fill="#231815">1.0</text>
<line x1="331" y1="434.1" x2="682" y2="434.1" stroke="#222" stroke-width="1.2"/>
<text x="475" y="446" font-size="10.45" fill="#231815"><tspan font-weight="bold">Verdinexor </tspan><tspan fill="#333" font-family="Liberation Serif" font-size="10.3">(μM)</tspan></text>
<line x1="453" y1="22" x2="453" y2="163" stroke="#f1f1f1" stroke-width="0.8" stroke-dasharray="2 1"/>
</svg>
</body></html>
